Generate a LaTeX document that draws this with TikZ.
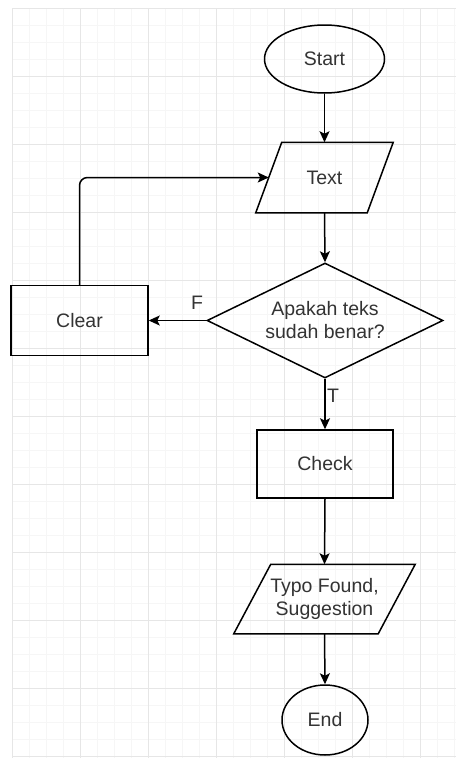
\documentclass[tikz,border=0pt]{standalone}
\usepackage{fontspec}
\setmainfont{Liberation Sans}
\usetikzlibrary{shapes.geometric,arrows.meta}
\definecolor{txt}{HTML}{333333}
\definecolor{gridmajor}{HTML}{E6E6E6}
\definecolor{gridminor}{HTML}{F6F6F6}
\tikzset{
  base/.style={font=\fontsize{19.5}{23}\selectfont, text=txt, line width=1.5pt, draw=black, inner sep=0pt, align=center},
  term/.style={base, ellipse},
  procbox/.style={base, rectangle},
  decbox/.style={base, diamond, aspect=2},
  iobox/.style={base, rectangle, draw=none},
  conn/.style={line width=1.5pt, -{Stealth[length=11pt,width=10pt,inset=2.5pt]}},
  lbl/.style={font=\fontsize{19.5}{23}\selectfont, text=txt, inner sep=0pt}
}
\begin{document}
\begin{tikzpicture}[x=1pt,y=-1pt]
\useasboundingbox (0,0) rectangle (456,771);
\fill[white] (0,0) rectangle (456,771);
% grid
\foreach \gx in {12,29,...,456} \draw[gridminor, line width=0.6pt] (\gx,8) -- (\gx,758);
\foreach \gy in {8,25,...,758} \draw[gridminor, line width=0.6pt] (12,\gy) -- (456,\gy);
\foreach \gx in {12,80,...,456} \draw[gridmajor, line width=0.9pt] (\gx,8) -- (\gx,758);
\foreach \gy in {8,76,...,758} \draw[gridmajor, line width=0.9pt] (12,\gy) -- (456,\gy);

% nodes
\node[term, minimum width=120pt, minimum height=68pt] (start) at (324.5,59) {Start};
\node[iobox, minimum width=110pt, minimum height=69pt] (text) at (324.5,177.5) {Text};
\draw[line width=1.5pt, line join=miter]
  ([xshift=13pt]text.north west) -- ([xshift=13pt]text.north east)
  -- ([xshift=-13pt]text.south east) -- ([xshift=-13pt]text.south west) -- cycle;
\node[decbox, minimum width=236pt, minimum height=115pt] (dec) at (325,320.5) {Apakah teks\\sudah benar?};
\node[procbox, minimum width=137pt, minimum height=70pt] (clear) at (79.5,320.5) {Clear};
\node[procbox, minimum width=136pt, minimum height=68pt] (check) at (325,464) {Check};
\node[iobox, minimum width=143pt, minimum height=68pt] (typo) at (324.5,599) {Typo Found,\\Suggestion};
\draw[line width=1.5pt, line join=miter]
  ([xshift=18.5pt]typo.north west) -- ([xshift=18.5pt]typo.north east)
  -- ([xshift=-18.5pt]typo.south east) -- ([xshift=-18.5pt]typo.south west) -- cycle;
\node[term, minimum width=86pt, minimum height=70pt] (end) at (325,720) {End};

% connectors
\draw[conn] (start) -- (text.north);
\draw[conn] (text.south) -- (dec.north);
\draw[conn] (dec.west) -- (clear.east);
\draw[conn, rounded corners=8pt] (clear.north) |- (text.west);
\draw[conn] (dec.south) -- (check.north);
\draw[conn] (check.south) -- (typo.north);
\draw[conn] (typo.south) -- (end.north);

% labels
\node[lbl] (flabel) at (197,303) {F};
\node[lbl] (tlabel) at (333,396) {T};
\end{tikzpicture}
\end{document}
